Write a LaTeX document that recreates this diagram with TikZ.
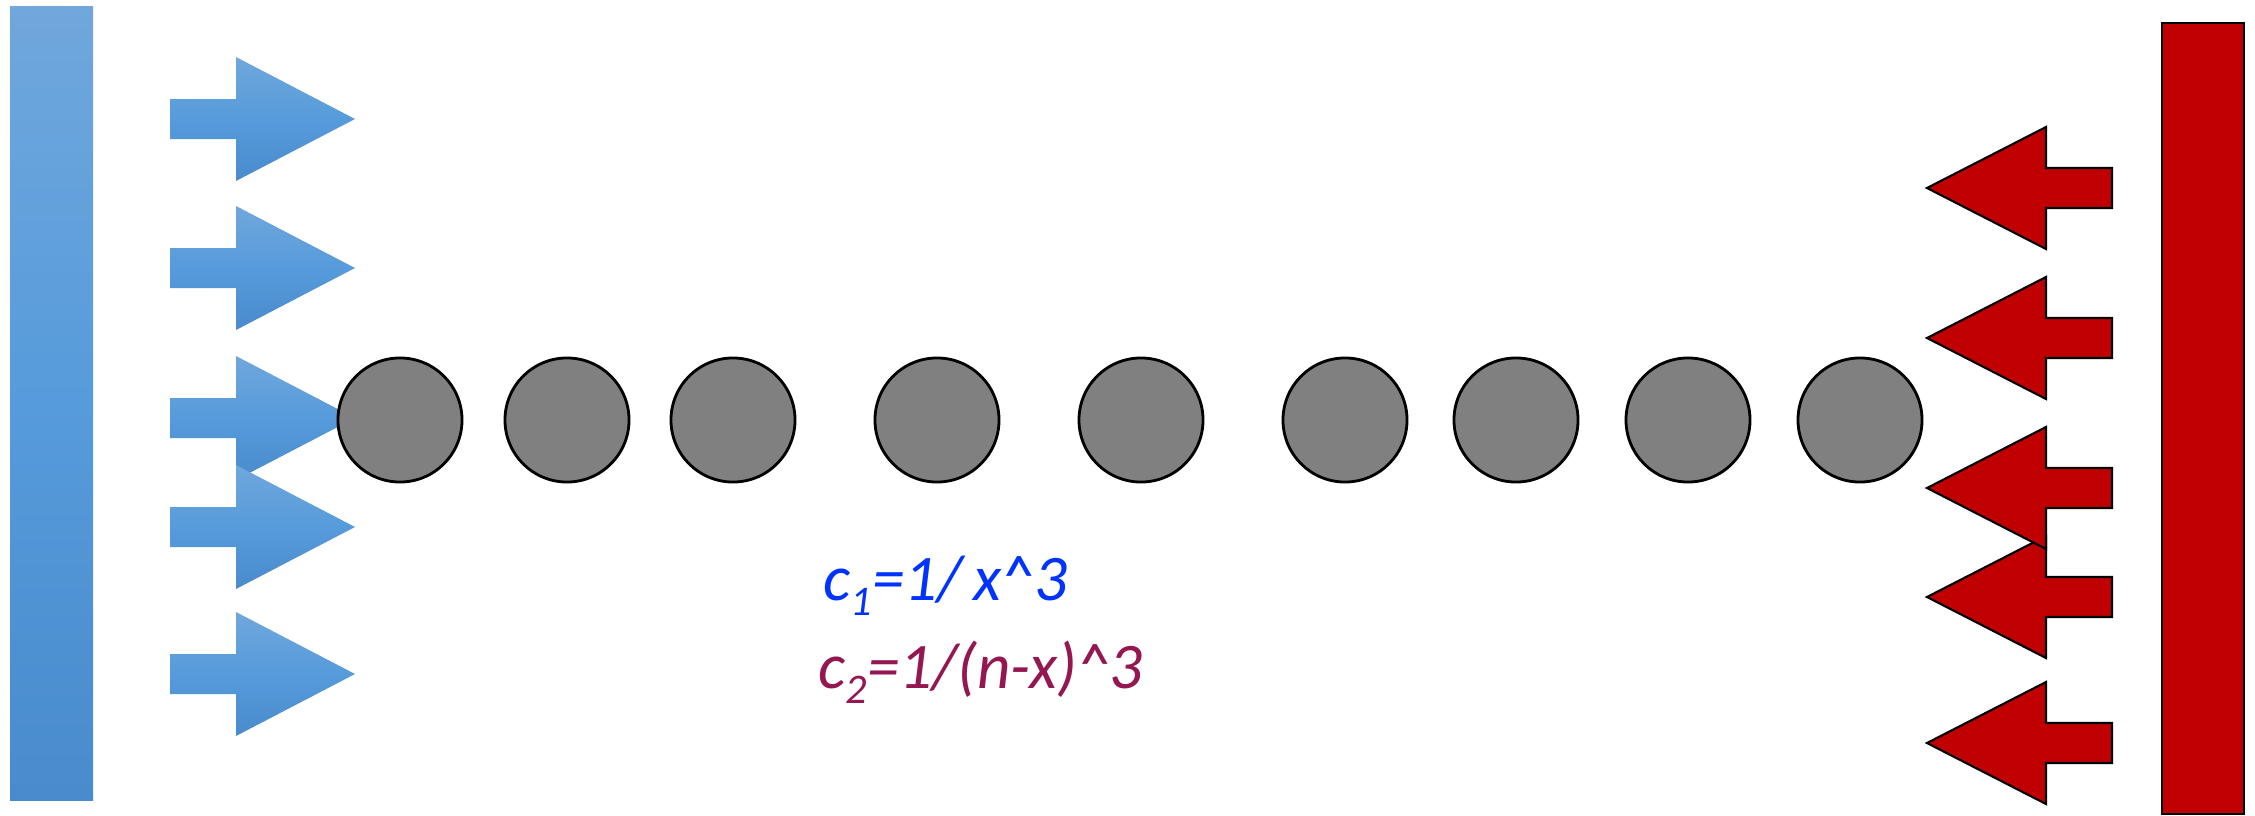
\documentclass[tikz,border=0pt]{standalone}
\usepackage{fontspec}
\setmainfont{Carlito}
\usepackage{tikz}

\definecolor{bluetop}{RGB}{112,167,220}
\definecolor{bluemid}{RGB}{86,155,219}
\definecolor{bluebot}{RGB}{73,139,204}
\definecolor{wallred}{RGB}{192,0,0}
\definecolor{eqblue}{RGB}{0,51,255}
\definecolor{eqpurple}{RGB}{148,23,81}

\newcommand{\lowidx}[1]{\raisebox{-4.5pt}{\fontsize{12}{12}\selectfont #1}}

\tikzset{
  bead/.style={circle, draw=black, line width=0.8pt, fill=gray,
    minimum size=1.24cm, inner sep=0pt},
  pushblue/.style={top color=bluetop, bottom color=bluebot, middle color=bluemid, draw=none},
  pushred/.style={fill=wallred, draw=black, line width=0.6pt, line join=miter},
  coeff/.style={anchor=base west, inner sep=0pt,
    font=\fontsize{18.5}{22}\selectfont\itshape},
}

\begin{document}
\begin{tikzpicture}[x=0.01cm, y=-0.01cm]
\useasboundingbox (0,0) rectangle (2255,815);
% walls
\shade[pushblue] (10,6) rectangle (93,800);
\draw[pushred] (2162,23) rectangle (2244,814);
% pushing arrows
\foreach \c in {119,268,418,527,674}
  \shade[pushblue] (170,\c-20) -- (236,\c-20) -- (236,\c-62) -- (355,\c)
    -- (236,\c+62) -- (236,\c+20) -- (170,\c+20) -- cycle;
\foreach \c in {743,597,488,338,188}
  \draw[pushred] (2112,\c-20) -- (2046,\c-20) -- (2046,\c-61) -- (1927,\c)
    -- (2046,\c+61) -- (2046,\c+20) -- (2112,\c+20) -- cycle;
% beads
\foreach \x [count=\i] in {400,567,733,937,1141,1345,1516,1688,1860}
  \node[bead] (b\i) at (\x,420) {};
% coefficients
\node[coeff, text=eqblue] (eqa) at (823,600)
  {c\lowidx{1}=1/\,x\textasciicircum3};
\node[coeff, text=eqpurple] (eqb) at (818,688)
  {c\lowidx{2}=1/(n-x)\textasciicircum3};
\end{tikzpicture}
\end{document}
